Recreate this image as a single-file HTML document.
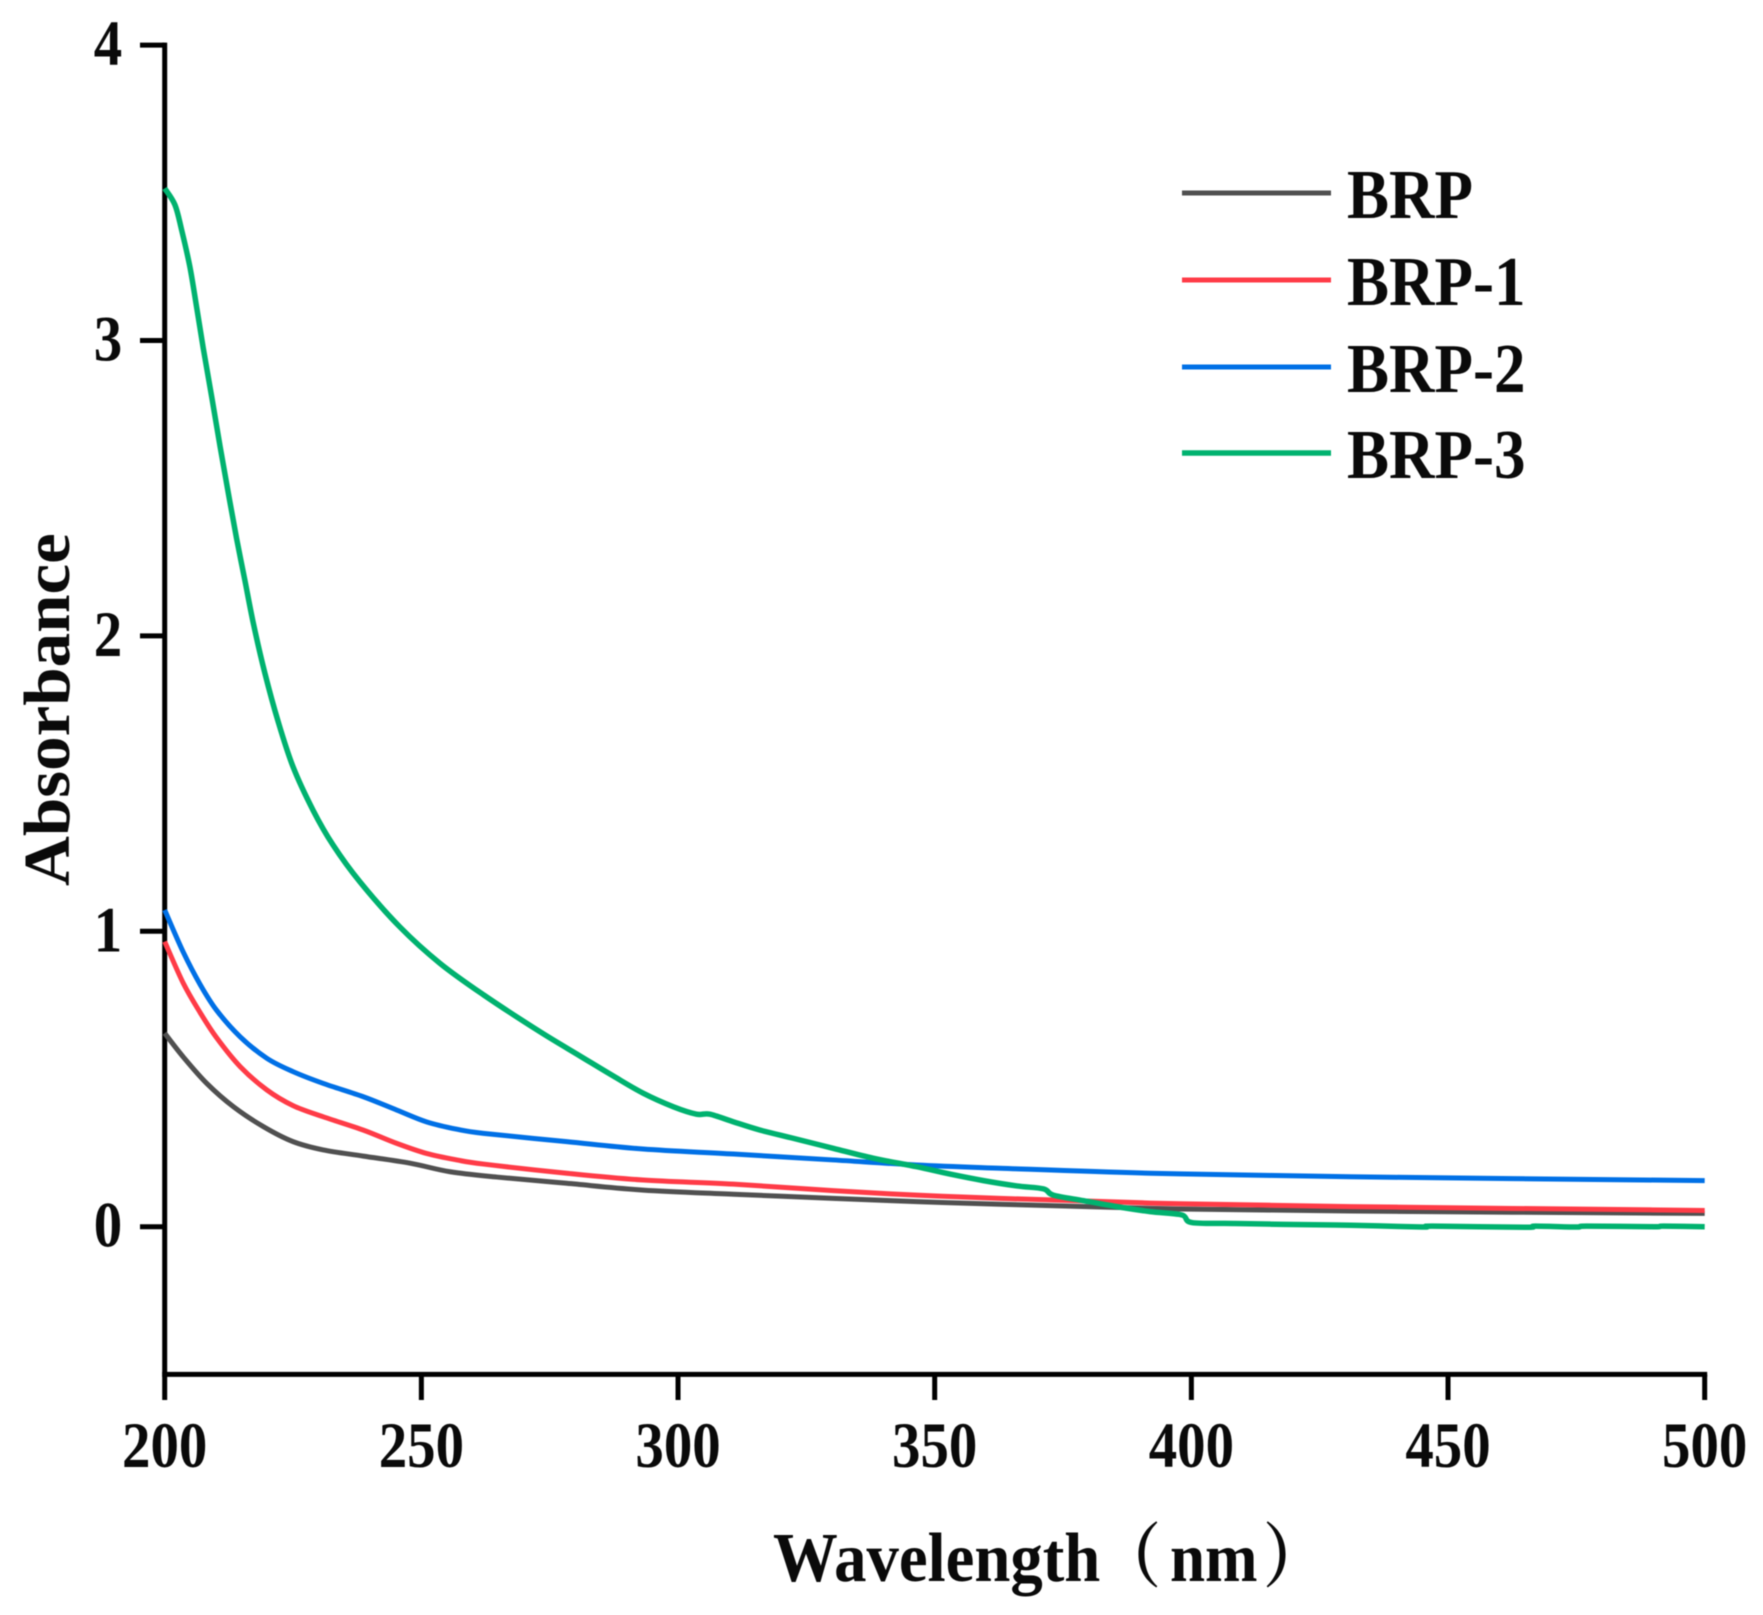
<!DOCTYPE html>
<html lang="en">
<head>
<meta charset="utf-8">
<title>Absorbance vs Wavelength</title>
<style>
  html, body { margin: 0; padding: 0; background: #fff; }
  #chart { display: block; width: 1763px; height: 1615px; filter: blur(0.6px); }
  text { font-family: "Liberation Serif", "Noto Serif CJK SC", serif; font-weight: bold; fill: #0a0a0a; }
</style>
</head>
<body>
<svg id="chart" xmlns="http://www.w3.org/2000/svg" width="1763" height="1615" viewBox="0 0 1763 1615">
  <rect x="0" y="0" width="1763" height="1615" fill="#ffffff"/>
  <g id="axes"></g>
  <g id="series"></g>

  <text transform="translate(69,886) rotate(-90) scale(1.015,0.97)" font-size="68">Absorbance</text>
  <text transform="translate(773,1581) scale(0.925,1)" font-size="70">Wavelength</text>
  <text transform="translate(1098,1581) scale(0.9,1)" font-size="70">（</text>
  <text transform="translate(1170,1581) scale(0.9,1)" font-size="70">nm</text>
  <text transform="translate(1263,1581) scale(0.9,1)" font-size="70">）</text>

  <g id="legend">
    <line x1="1182" y1="193" x2="1331" y2="193" stroke="#505050" stroke-width="5"/>
    <text transform="translate(1347,218) scale(0.9,1)" font-size="70">BRP</text>
    <line x1="1182" y1="280" x2="1331" y2="280" stroke="#ff3b47" stroke-width="5"/>
    <text transform="translate(1347,305) scale(0.9,1)" font-size="70">BRP-1</text>
    <line x1="1182" y1="367" x2="1331" y2="367" stroke="#0070e6" stroke-width="5"/>
    <text transform="translate(1347,392) scale(0.9,1)" font-size="70">BRP-2</text>
    <line x1="1182" y1="453" x2="1331" y2="453" stroke="#00b26f" stroke-width="5.5"/>
    <text transform="translate(1347,478) scale(0.9,1)" font-size="70">BRP-3</text>
  </g>
</svg>

<script>
const xTicks = [200, 250, 300, 350, 400, 450, 500];
const yTicks = [0, 1, 2, 3, 4];

const brpWavelength = [200, 203.6, 208.2, 213.4, 219.2, 225, 230.9, 238.7, 247.8, 255.6, 264.7, 278.3, 293.2, 310.8, 330.2, 346.5, 362.7, 392, 431, 500];
const brpAbsorbance = [0.655, 0.575, 0.485, 0.406, 0.339, 0.288, 0.26, 0.239, 0.215, 0.186, 0.168, 0.147, 0.124, 0.11, 0.096, 0.085, 0.076, 0.062, 0.053, 0.045];

const brp1Wavelength = [200, 203.6, 206.9, 210.1, 214.7, 219.9, 225, 230.9, 238.7, 245.2, 251, 256.9, 262.1, 278.3, 293.2, 310.8, 330.2, 346.5, 362.7, 392, 431, 500];
const brp1Absorbance = [0.965, 0.825, 0.725, 0.64, 0.542, 0.463, 0.41, 0.372, 0.327, 0.282, 0.248, 0.226, 0.212, 0.181, 0.158, 0.144, 0.122, 0.107, 0.096, 0.08, 0.068, 0.055];

const brp2Wavelength = [200, 203.6, 206.9, 210.1, 214.7, 219.9, 225, 230.9, 238.7, 245.2, 251, 256.9, 262.1, 278.3, 293.2, 310.8, 330.2, 346.5, 362.7, 392, 431, 500];
const brp2Absorbance = [1.072, 0.93, 0.82, 0.733, 0.643, 0.57, 0.525, 0.485, 0.44, 0.395, 0.355, 0.33, 0.316, 0.288, 0.263, 0.246, 0.226, 0.209, 0.198, 0.181, 0.169, 0.156];

const brp3Wavelength = [200, 202, 203.3, 204.9, 206.2, 207.5, 209.2, 210.8, 212.4, 214, 215.6, 217.3, 219.5, 222.1, 225, 228.9, 232.8, 238, 245.8, 253.6, 262.1, 273.1, 280.9, 287.4, 293.2, 299.1, 303.6, 306.2, 310.8, 316, 322.5, 330.3, 338, 346.5, 353, 359.5, 366, 371.2, 373.1, 379, 385.5, 392, 398.1, 400.1, 408.2, 417.9, 431, 445, 447, 465, 467, 475, 477, 490, 492, 500];
const brp3Absorbance = [3.515, 3.459, 3.374, 3.25, 3.115, 2.975, 2.805, 2.64, 2.483, 2.33, 2.19, 2.04, 1.875, 1.71, 1.557, 1.41, 1.292, 1.168, 1.015, 0.892, 0.785, 0.66, 0.578, 0.51, 0.452, 0.406, 0.381, 0.381, 0.355, 0.327, 0.299, 0.265, 0.232, 0.203, 0.178, 0.156, 0.138, 0.128, 0.107, 0.088, 0.068, 0.051, 0.04, 0.014, 0.011, 0.008, 0.005, -0.001, 0.002, -0.002, 0.002, -0.001, 0.002, 0, 0.002, 0];

const NS = 'http://www.w3.org/2000/svg';
const axesGroup = document.getElementById('axes');
const seriesGroup = document.getElementById('series');

function xScale(v) { return 164.7 + (v - 200) * 5.1333; }
function yScale(v) { return 1226.7 - v * 295.4; }

const plotLeft = xScale(200);
const plotRight = xScale(500);
const plotBottom = yScale(-0.5);
const plotTop = yScale(4);

const yAxisLine = document.createElementNS(NS, 'line');


yAxisLine.setAttribute('x1', plotLeft);
yAxisLine.setAttribute('x2', plotLeft);
yAxisLine.setAttribute('y1', plotTop - 2.5);
yAxisLine.setAttribute('y2', plotBottom);
yAxisLine.setAttribute('stroke', '#000');
yAxisLine.setAttribute('stroke-width', '5');
axesGroup.appendChild(yAxisLine);

const xAxisLine = document.createElementNS(NS, 'line');


xAxisLine.setAttribute('x1', plotLeft - 2.5);
xAxisLine.setAttribute('x2', plotRight + 2.5);
xAxisLine.setAttribute('y1', plotBottom);
xAxisLine.setAttribute('y2', plotBottom);
xAxisLine.setAttribute('stroke', '#000');
xAxisLine.setAttribute('stroke-width', '5');
axesGroup.appendChild(xAxisLine);

xTicks.forEach(function (t) {
  const mark = document.createElementNS(NS, 'line');
  
  
  mark.setAttribute('x1', xScale(t));
  mark.setAttribute('x2', xScale(t));
  mark.setAttribute('y1', plotBottom);
  mark.setAttribute('y2', 1400);
  mark.setAttribute('stroke', '#000');
  mark.setAttribute('stroke-width', '5');
  axesGroup.appendChild(mark);

  const label = document.createElementNS(NS, 'text');
  
  
  label.setAttribute('text-anchor', 'middle');
  label.setAttribute('font-size', '65');
  label.setAttribute('transform', 'translate(' + xScale(t) + ',1467) scale(0.875,1)');
  label.textContent = String(t);
  axesGroup.appendChild(label);
});

yTicks.forEach(function (t) {
  const mark = document.createElementNS(NS, 'line');
  
  
  mark.setAttribute('x1', 140);
  mark.setAttribute('x2', plotLeft);
  mark.setAttribute('y1', yScale(t));
  mark.setAttribute('y2', yScale(t));
  mark.setAttribute('stroke', '#000');
  mark.setAttribute('stroke-width', '5');
  axesGroup.appendChild(mark);

  const label = document.createElementNS(NS, 'text');
  
  
  label.setAttribute('text-anchor', 'middle');
  label.setAttribute('font-size', '65');
  label.setAttribute('transform', 'translate(108,' + (yScale(t) + 20) + ') scale(0.875,1)');
  label.textContent = String(t);
  axesGroup.appendChild(label);
});

function smoothPath(xs, ys) {
  const pts = xs.map(function (v, i) { return [xScale(v), yScale(ys[i])]; });
  let d = 'M' + pts[0][0].toFixed(2) + ' ' + pts[0][1].toFixed(2);
  for (let i = 0; i < pts.length - 1; i++) {
    const p0 = pts[Math.max(i - 1, 0)];
    const p1 = pts[i];
    const p2 = pts[i + 1];
    const p3 = pts[Math.min(i + 2, pts.length - 1)];
    const c1x = p1[0] + (p2[0] - p0[0]) / 6;
    const c1y = p1[1] + (p2[1] - p0[1]) / 6;
    const c2x = p2[0] - (p3[0] - p1[0]) / 6;
    const c2y = p2[1] - (p3[1] - p1[1]) / 6;
    d += 'C' + c1x.toFixed(2) + ' ' + c1y.toFixed(2) + ' ' + c2x.toFixed(2) + ' ' + c2y.toFixed(2) + ' ' + p2[0].toFixed(2) + ' ' + p2[1].toFixed(2);
  }
  return d;
}

function drawSeries(name, xs, ys, color, width) {
  const path = document.createElementNS(NS, 'path');
  
  
  path.setAttribute('d', smoothPath(xs, ys));
  path.setAttribute('fill', 'none');
  path.setAttribute('stroke', color);
  path.setAttribute('stroke-width', width);
  path.setAttribute('stroke-linejoin', 'round');
  seriesGroup.appendChild(path);
}

drawSeries('series-line-brp', brpWavelength, brpAbsorbance, '#505050', '5');
drawSeries('series-line-brp-1', brp1Wavelength, brp1Absorbance, '#ff3b47', '5');
drawSeries('series-line-brp-2', brp2Wavelength, brp2Absorbance, '#0070e6', '5');
drawSeries('series-line-brp-3', brp3Wavelength, brp3Absorbance, '#00b26f', '5.5');
</script>
</body>
</html>
